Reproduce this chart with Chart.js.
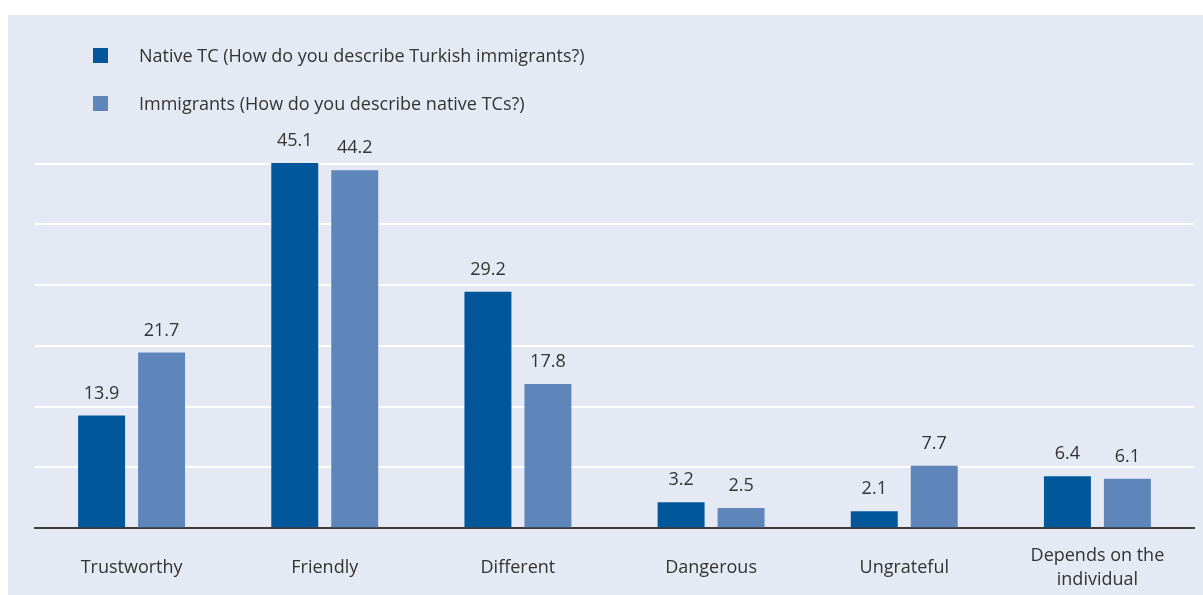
<!DOCTYPE html>
<html>
<head>
<meta charset="utf-8">
<script src="https://cdn.jsdelivr.net/npm/chart.js@4/dist/chart.umd.min.js"></script>
<style>
    html, body { margin: 0; padding: 0; background: #ffffff; }
    body { width: 1203px; height: 595px; position: relative; overflow: hidden; font-family: "Open Sans", sans-serif; }
    #panel { position: absolute; left: 8px; top: 15px; width: 1195px; height: 580px; background: #e5e9f4; overflow: hidden; }
    #chart-box { position: absolute; left: 0; top: 0; width: 1195px; height: 614px; }
    #legend { position: absolute; left: 85px; top: 28px; }
    .legend-item { position: relative; height: 24px; margin-bottom: 24px; color: #333333; font-size: 18px; line-height: 24px; padding-left: 46px; }
    .legend-box { position: absolute; left: 0; top: 5px; width: 15px; height: 15px; }
</style>
</head>
<body>
<div id="panel">
    <div id="chart-box"><canvas id="chart"></canvas></div>
    <div id="legend"></div>
</div>
<script>
const categories = ['Trustworthy', 'Friendly', 'Different', 'Dangerous', 'Ungrateful', ['Depends on the', 'individual']];
const nativeTC = [13.9, 45.1, 29.2, 3.2, 2.1, 6.4];
const immigrants = [21.7, 44.2, 17.8, 2.5, 7.7, 6.1];
const seriesNames = ['Native TC (How do you describe Turkish immigrants?)', 'Immigrants (How do you describe native TCs?)'];
const seriesColors = ['#02579b', '#5e86bb'];

const textColor = '#333333';
const fontFamily = '"Open Sans", sans-serif';

// value labels above every bar
const barValues = {
    id: 'barValues',
    afterDatasetsDraw(chart) {
        const ctx = chart.ctx;
        ctx.save();
        ctx.font = '18px ' + fontFamily;
        ctx.fillStyle = textColor;
        ctx.textAlign = 'center';
        ctx.textBaseline = 'middle';
        chart.data.datasets.forEach((ds, i) => {
            chart.getDatasetMeta(i).data.forEach((bar, j) => {
                ctx.fillText(ds.data[j].toFixed(1), bar.x, bar.y - 22);
            });
        });
        ctx.restore();
    }
};

const chart = new Chart(document.getElementById('chart'), {
    type: 'bar',
    data: {
        labels: categories,
        datasets: [
            { label: seriesNames[0], data: nativeTC, backgroundColor: seriesColors[0] },
            { label: seriesNames[1], data: immigrants, backgroundColor: seriesColors[1] }
        ]
    },
    options: {
        responsive: true,
        maintainAspectRatio: false,
        animation: false,
        layout: { padding: { left: 27, right: 9, top: 88, bottom: 6 } },
        datasets: { bar: { categoryPercentage: 0.621, barPercentage: 0.783 } },
        plugins: {
            legend: { display: false },
            tooltip: { enabled: false }
        },
        scales: {
            x: {
                grid: { display: false },
                border: { display: true, color: '#3c3c3c', width: 2 },
                ticks: {
                    color: textColor,
                    font: { family: fontFamily, size: 18, lineHeight: 1.3 },
                    padding: 20,
                    crossAlign: 'center',
                    maxRotation: 0,
                    autoSkip: false
                }
            },
            y: {
                min: 0,
                max: 52.5,
                ticks: { display: false, stepSize: 7.5 },
                border: { display: false },
                grid: {
                    color: c => c.tick.value > 45 ? 'rgba(0,0,0,0)' : '#ffffff',
                    lineWidth: 2,
                    drawTicks: false
                }
            }
        }
    },
    plugins: [barValues]
});

// legend stacked vertically, built from the datasets
const legendEl = document.getElementById('legend');
chart.data.datasets.forEach(ds => {
    const item = document.createElement('div');
    item.className = 'legend-item';
    item.innerHTML = `<span class="legend-box" style="background:${ds.backgroundColor}"></span>${ds.label}`;
    legendEl.appendChild(item);
});
</script>
</body>
</html>
